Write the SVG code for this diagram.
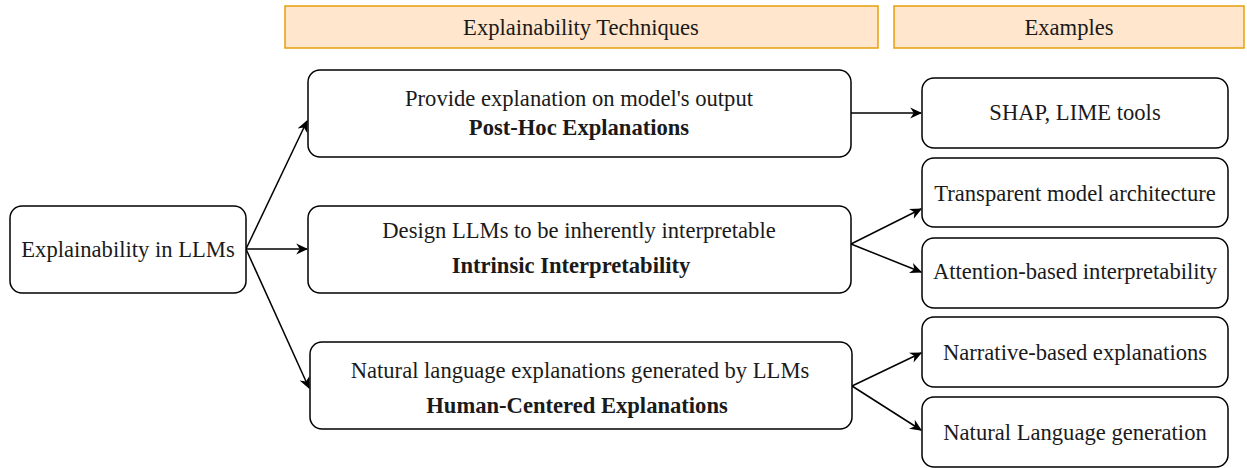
<svg xmlns="http://www.w3.org/2000/svg" width="1247" height="468" viewBox="0 0 1247 468">
<defs>
<style>
.hdr{fill:#ffe6cc;stroke:#e6a00a;stroke-width:1.5}
.box{fill:#fff;stroke:#000;stroke-width:1.5}
text{font-family:"Liberation Serif","Times New Roman",serif;font-size:22.6px;fill:#1a1a1a;text-anchor:middle;dominant-baseline:central}
.b{font-weight:bold}
.c{fill:none;stroke:#000;stroke-width:1.5}
</style>
<marker id="ah" viewBox="0 0 10 10" refX="9" refY="5" markerWidth="12" markerHeight="12" markerUnits="userSpaceOnUse" orient="auto">
<path d="M0,0.5 L10,5 L0,9.5 L3,5 Z" fill="#000"/>
</marker>
</defs>
<rect width="1247" height="468" fill="#fff"/>
<g id="hdr-techniques"><rect class="hdr" x="285" y="6" width="593" height="42"/><text x="581" y="27">Explainability Techniques</text></g>
<g id="hdr-examples"><rect class="hdr" x="894" y="6" width="350" height="42"/><text x="1069" y="27">Examples</text></g>
<g id="connectors">
<path class="c" d="M246,249 L307,121" marker-end="url(#ah)"/>
<path class="c" d="M246,249 L307,249" marker-end="url(#ah)"/>
<path class="c" d="M246,249 L309,388" marker-end="url(#ah)"/>
<path class="c" d="M851,113 L921,113" marker-end="url(#ah)"/>
<path class="c" d="M851,244 L921,209" marker-end="url(#ah)"/>
<path class="c" d="M851,244 L921,272" marker-end="url(#ah)"/>
<path class="c" d="M852,386 L921,353" marker-end="url(#ah)"/>
<path class="c" d="M852,386 L921,430" marker-end="url(#ah)"/>
</g>
<g id="root"><rect class="box" x="10" y="206" width="236" height="87" rx="12"/><text x="128" y="249.5">Explainability in LLMs</text></g>
<g id="posthoc"><rect class="box" x="308" y="70" width="543" height="87" rx="12"/><text x="579" y="98">Provide explanation on model's output</text><text class="b" x="579" y="127">Post-Hoc Explanations</text></g>
<g id="intrinsic"><rect class="box" x="308" y="206" width="543" height="87" rx="12"/><text x="579" y="230">Design LLMs to be inherently interpretable</text><text class="b" x="571" y="265">Intrinsic Interpretability</text></g>
<g id="human"><rect class="box" x="310" y="342" width="542" height="87" rx="12"/><text x="580" y="370">Natural language explanations generated by LLMs</text><text class="b" x="577" y="405">Human-Centered Explanations</text></g>
<g id="shap"><rect class="box" x="922" y="78" width="306" height="70" rx="12"/><text x="1075" y="112">SHAP, LIME tools</text></g>
<g id="transparent"><rect class="box" x="922" y="158" width="306" height="69" rx="12"/><text x="1075" y="193">Transparent model architecture</text></g>
<g id="attention"><rect class="box" x="922" y="238" width="306" height="70" rx="12"/><text x="1075" y="271">Attention-based interpretability</text></g>
<g id="narrative"><rect class="box" x="922" y="317" width="306" height="70" rx="12"/><text x="1075" y="352">Narrative-based explanations</text></g>
<g id="nlg"><rect class="box" x="922" y="397" width="306" height="70" rx="12"/><text x="1075" y="432">Natural Language generation</text></g>
</svg>
